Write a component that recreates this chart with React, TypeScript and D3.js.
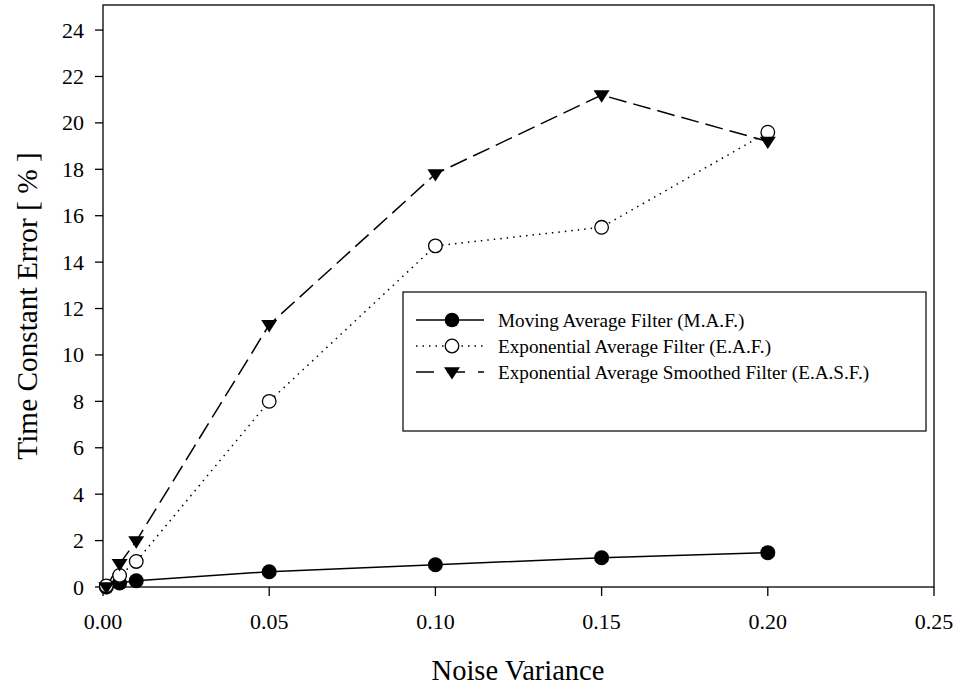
import React from "react";
import * as d3 from "d3";

const noiseVariance = [0.001, 0.005, 0.01, 0.05, 0.1, 0.15, 0.2];
const mafError = [0.0, 0.17, 0.27, 0.66, 0.96, 1.26, 1.48];
const eafError = [0.05, 0.5, 1.1, 8.0, 14.7, 15.5, 19.6];
const easfError = [0.0, 1.0, 1.98, 11.3, 17.8, 21.2, 19.2];

const xTicks = [0, 0.05, 0.1, 0.15, 0.2, 0.25];
const yTicks = [0, 2, 4, 6, 8, 10, 12, 14, 16, 18, 20, 22, 24];

const seriesNames = [
  "Moving Average Filter (M.A.F.)",
  "Exponential Average Filter (E.A.F.)",
  "Exponential Average Smoothed Filter (E.A.S.F.)",
];

const W = 957;
const H = 687;
const left = 103;
const right = 934;
const top = 5;
const bottom = 587;
const font = "Liberation Serif";

export default function App() {
  const x = d3.scaleLinear().domain([0, 0.25]).range([left, right]);
  const y = d3.scaleLinear().domain([0, 25.08]).range([bottom, top]);
  const line = d3
    .line<[number, number]>()
    .x((d) => x(d[0]))
    .y((d) => y(d[1]));

  const maf = noiseVariance.map((v, i) => [v, mafError[i]] as [number, number]);
  const eaf = noiseVariance.map((v, i) => [v, eafError[i]] as [number, number]);
  const easf = noiseVariance.map((v, i) => [v, easfError[i]] as [number, number]);

  const tri = (cx: number, cy: number, s = 8) =>
    `M${cx - s},${cy - s * 0.6} L${cx + s},${cy - s * 0.6} L${cx},${cy + s * 0.95} Z`;

  const legendX = 403;
  const legendY = 292;
  const rows = [320, 346, 372];
  const mx = 452;

  return (
    <svg width={W} height={H} style={{ position: "absolute", left: 0, top: 0, background: "#fff" }}>
      <rect x={0} y={0} width={W} height={H} fill="#fff" />
      {/* frame */}
      <rect x={left} y={top} width={right - left} height={bottom - top} fill="none" stroke="#000" strokeWidth={1.3} />

      {/* x axis ticks */}
      {xTicks.map((t) => (
        <g key={"x" + t}>
          <line x1={x(t)} x2={x(t)} y1={bottom} y2={bottom + 9} stroke="#000" strokeWidth={1.3} />
          <text x={x(t)} y={629} textAnchor="middle" fontFamily={font} fontSize={22}>
            {t.toFixed(2)}
          </text>
        </g>
      ))}
      {/* y axis ticks */}
      {yTicks.map((t) => (
        <g key={"y" + t}>
          <line x1={left - 8} x2={left} y1={y(t)} y2={y(t)} stroke="#000" strokeWidth={1.3} />
          <text x={left - 19} y={y(t) + 7.5} textAnchor="end" fontFamily={font} fontSize={22}>
            {t}
          </text>
        </g>
      ))}

      <text x={518} y={680} textAnchor="middle" fontFamily={font} fontSize={28.5}>
        Noise Variance
      </text>
      <text
        transform="translate(37, 306) rotate(-90)"
        textAnchor="middle"
        fontFamily={font}
        fontSize={29.3}
      >
        Time Constant Error [ % ]
      </text>

      {/* series lines */}
      <path d={line(easf) || ""} fill="none" stroke="#000" strokeWidth={1.5} strokeDasharray="18 7" />
      <path d={line(eaf) || ""} fill="none" stroke="#000" strokeWidth={1.5} strokeDasharray="1.5 5" />
      <path d={line(maf) || ""} fill="none" stroke="#000" strokeWidth={1.5} />

      {/* markers */}
      {maf.map((d, i) => (
        <circle key={"m" + i} cx={x(d[0])} cy={y(d[1])} r={7.5} fill="#000" />
      ))}
      {eaf.map((d, i) => (
        <circle key={"e" + i} cx={x(d[0])} cy={y(d[1])} r={6.8} fill="#fff" stroke="#000" strokeWidth={1.3} />
      ))}
      {easf.map((d, i) => (
        <path key={"s" + i} d={tri(x(d[0]), y(d[1]))} fill="#000" />
      ))}

      {/* legend */}
      <rect x={legendX} y={legendY} width={523} height={139} fill="#fff" stroke="#000" strokeWidth={1.2} />
      <line x1={416} x2={484} y1={rows[0]} y2={rows[0]} stroke="#000" strokeWidth={1.5} />
      <circle cx={mx} cy={rows[0]} r={7.3} fill="#000" />
      <line x1={416} x2={484} y1={rows[1]} y2={rows[1]} stroke="#000" strokeWidth={1.5} strokeDasharray="1.5 5" />
      <circle cx={mx} cy={rows[1]} r={6.8} fill="#fff" stroke="#000" strokeWidth={1.3} />
      <line x1={416} x2={484} y1={rows[2]} y2={rows[2]} stroke="#000" strokeWidth={1.5} strokeDasharray="18 13" />
      <path d={tri(mx, rows[2])} fill="#000" />
      {seriesNames.map((n, i) => (
        <text key={n} x={498} y={rows[i] + 6.5} fontFamily={font} fontSize={19.2}>
          {n}
        </text>
      ))}
    </svg>
  );
}
